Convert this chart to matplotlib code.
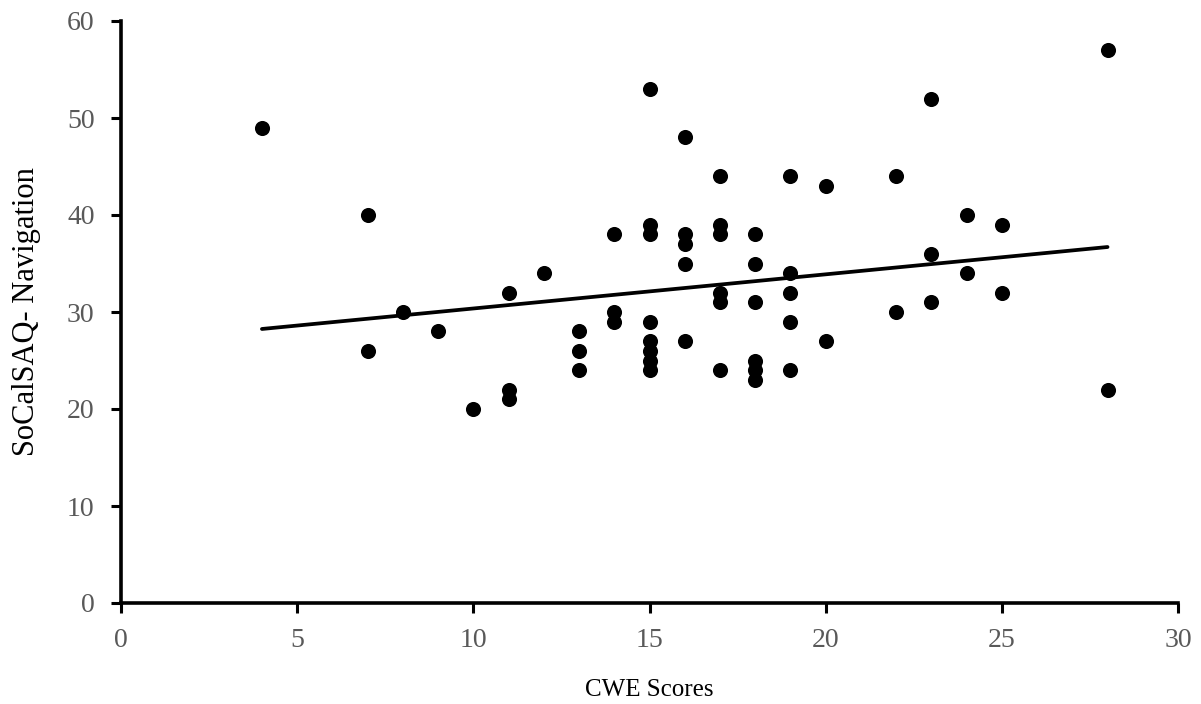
import matplotlib
matplotlib.use("Agg")
import matplotlib.pyplot as plt
import numpy as np

cwe = [4, 7, 7, 8, 9, 10, 11, 11, 11, 12, 13, 13, 13, 14, 14, 14,
       15, 15, 15, 15, 15, 15, 15, 15, 16, 16, 16, 16, 16,
       17, 17, 17, 17, 17, 17, 18, 18, 18, 18, 18, 18,
       19, 19, 19, 19, 19, 20, 20, 22, 22, 23, 23, 23, 24, 24, 25, 25, 28, 28]
nav = [49, 40, 26, 30, 28, 20, 32, 22, 21, 34, 28, 26, 24, 38, 30, 29,
       53, 39, 38, 29, 27, 26, 25, 24, 48, 38, 37, 35, 27,
       44, 39, 38, 32, 31, 24, 38, 35, 31, 25, 24, 23,
       44, 34, 32, 29, 24, 43, 27, 44, 30, 52, 36, 31, 40, 34, 39, 32, 57, 22]
# Linear trend line endpoints
trend_x = [4, 28]
trend_y = [28.25, 36.7]
x_ticks = [0, 5, 10, 15, 20, 25, 30]
y_ticks = [0, 10, 20, 30, 40, 50, 60]

plt.rcParams['font.family'] = ['Liberation Serif', 'DejaVu Serif']

fig = plt.figure(figsize=(12.01, 7.04), dpi=100)
ax = fig.add_axes([121/1201, 1-603/704, (1178-121)/1201, (603-21)/704])

ax.scatter(cwe, nav, s=118, color='black', zorder=3, linewidths=0)
ax.plot(trend_x, trend_y, color='black', lw=2.7, zorder=2, solid_capstyle='round')

ax.set_xlim(0, 30)
ax.set_ylim(0, 60)
ax.set_xticks(x_ticks)
ax.set_yticks(y_ticks)
ax.tick_params(axis='both', direction='out', length=7, width=2.2,
               labelsize=20, labelcolor='#595959', color='black')
ax.tick_params(axis='x', pad=11)
ax.tick_params(axis='y', pad=12)
for s in ['top', 'right']:
    ax.spines[s].set_visible(False)
for s in ['left', 'bottom']:
    ax.spines[s].set_linewidth(2.6)
ax.set_xlabel('CWE Scores', fontsize=18, labelpad=19)
ax.set_ylabel('SoCalSAQ- Navigation', fontsize=22, labelpad=19)

fig.savefig('out.png', dpi=100)
